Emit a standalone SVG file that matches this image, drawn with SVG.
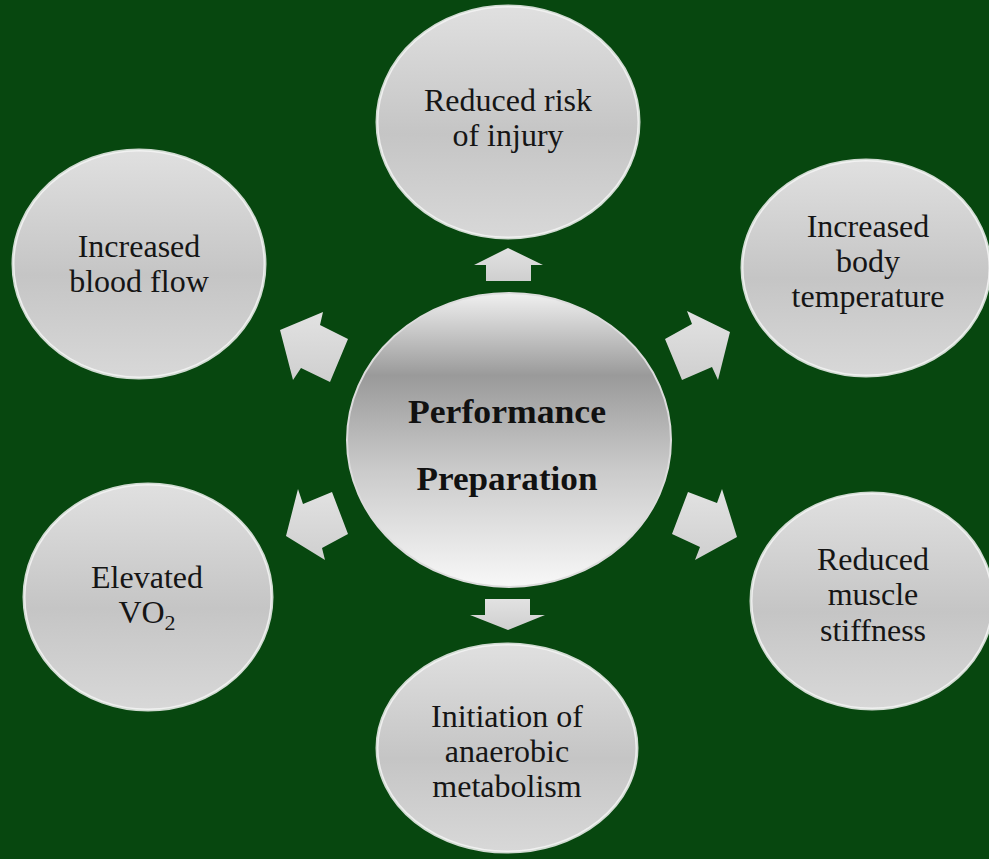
<svg xmlns="http://www.w3.org/2000/svg" width="989" height="859" viewBox="0 0 989 859">
<defs>
<linearGradient id="gNode" x1="0" y1="0" x2="0" y2="1">
<stop offset="0" stop-color="#e0e0e0"/>
<stop offset="0.55" stop-color="#c5c5c5"/>
<stop offset="1" stop-color="#d8d8d8"/>
</linearGradient>
<linearGradient id="gCenter" x1="0" y1="0" x2="0" y2="1">
<stop offset="0" stop-color="#f0f0f0"/>
<stop offset="0.28" stop-color="#9a9a9a"/>
<stop offset="0.6" stop-color="#cacaca"/>
<stop offset="1" stop-color="#f8f8f8"/>
</linearGradient>
<linearGradient id="gArrow" x1="0" y1="0" x2="0" y2="1">
<stop offset="0" stop-color="#e2e2e2"/>
<stop offset="1" stop-color="#cfcfcf"/>
</linearGradient>
</defs>
<style>
.node{fill:url(#gNode);stroke:#f4f4f4;stroke-width:3;stroke-opacity:0.85}
.center{fill:url(#gCenter);stroke:#dcdcdc;stroke-width:2}
.lbl{font-family:"Liberation Serif","Times New Roman",serif;font-size:32px;fill:#151515;text-anchor:middle}
.clbl{font-family:"Liberation Serif","Times New Roman",serif;font-size:33px;font-weight:bold;fill:#111;text-anchor:middle}
.arr{fill:url(#gArrow);stroke:none}
</style>
<rect width="989" height="859" fill="#07470f"/>
<g id="connectors">
<polygon class="arr" points="508,248 543,265 531,265 531,281 486,281 486,265 474,265"/>
<polygon class="arr" points="485,599 530,599 530,615 545,615 508,630 470,615 485,615"/>
<polygon class="arr" points="280,330 323,312 320,325 348,339 330,382 301,368 293,380"/>
<polygon class="arr" points="665,339 692,324 687,311 730,332 718,380 712,367 682,380"/>
<polygon class="arr" points="286,536 298,489 303,504 332,492 348,534 322,548 325,560"/>
<polygon class="arr" points="688,492 717,503 722,489 737,537 695,560 700,547 672,534"/>
</g>
<g id="node-center">
<ellipse class="center" cx="509" cy="440" rx="162" ry="147"/>
<text class="clbl" x="507" y="423" textLength="198" lengthAdjust="spacingAndGlyphs">Performance</text>
<text class="clbl" x="507" y="490" textLength="181" lengthAdjust="spacingAndGlyphs">Preparation</text>
</g>
<g id="node-injury">
<ellipse class="node" cx="508" cy="122" rx="131" ry="116"/>
<text class="lbl" x="508" y="111">Reduced risk</text>
<text class="lbl" x="508" y="146">of injury</text>
</g>
<g id="node-bloodflow">
<ellipse class="node" cx="139" cy="264" rx="126" ry="114"/>
<text class="lbl" x="139" y="257">Increased</text>
<text class="lbl" x="139" y="292">blood flow</text>
</g>
<g id="node-temperature">
<ellipse class="node" cx="866" cy="268" rx="124" ry="108"/>
<text class="lbl" x="868" y="237">Increased</text>
<text class="lbl" x="868" y="272">body</text>
<text class="lbl" x="868" y="307">temperature</text>
</g>
<g id="node-vo2">
<ellipse class="node" cx="148" cy="597" rx="124" ry="113"/>
<text class="lbl" x="147" y="588">Elevated</text>
<text class="lbl" x="147" y="623">VO<tspan font-size="22" dy="7">2</tspan></text>
</g>
<g id="node-stiffness">
<ellipse class="node" cx="872" cy="601" rx="121" ry="108"/>
<text class="lbl" x="873" y="570">Reduced</text>
<text class="lbl" x="873" y="605">muscle</text>
<text class="lbl" x="873" y="641">stiffness</text>
</g>
<g id="node-anaerobic">
<ellipse class="node" cx="507" cy="748" rx="130" ry="104"/>
<text class="lbl" x="507" y="727">Initiation of</text>
<text class="lbl" x="507" y="762">anaerobic</text>
<text class="lbl" x="507" y="797">metabolism</text>
</g>
</svg>
